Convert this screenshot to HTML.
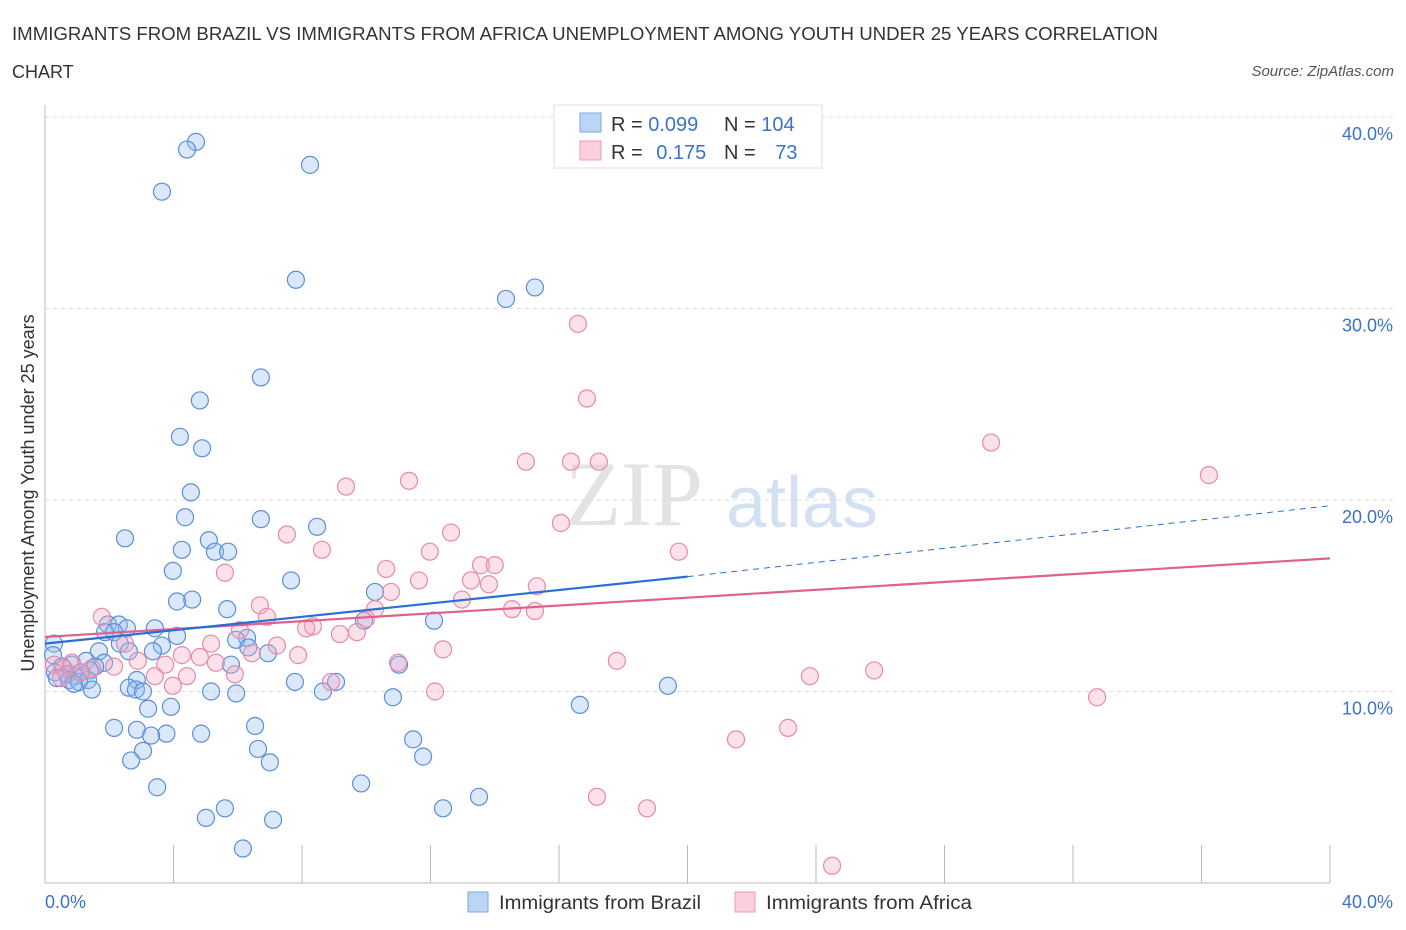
<!DOCTYPE html>
<html><head><meta charset="utf-8"><style>
body{margin:0;background:#fff;font-family:"Liberation Sans",sans-serif;}
svg{display:block}
</style></head><body>
<svg id="chart" width="1406" height="930">
<text x="12" y="40" font-size="18" fill="#333" textLength="1146" lengthAdjust="spacingAndGlyphs">IMMIGRANTS FROM BRAZIL VS IMMIGRANTS FROM AFRICA UNEMPLOYMENT AMONG YOUTH UNDER 25 YEARS CORRELATION</text>
<text x="12" y="78" font-size="18" fill="#333">CHART</text>
<text x="1394" y="76" font-size="15" font-style="italic" fill="#555" text-anchor="end">Source: ZipAtlas.com</text>
<text x="634" y="525" font-size="92" font-family="Liberation Serif" fill="#ddd" text-anchor="middle" opacity="0.8">ZIP</text>
<text x="802" y="527" font-size="72" fill="#c9daf0" text-anchor="middle" opacity="0.8">atlas</text>
<g id="grid"></g>
<g id="pts"></g>
<g id="trend"></g>
<text transform="translate(34,493) rotate(-90)" font-size="18" fill="#333" text-anchor="middle">Unemployment Among Youth under 25 years</text>
<text x="45" y="908" font-size="18" fill="#3b73c9">0.0%</text>
<text x="1393" y="908" font-size="18" fill="#3b73c9" text-anchor="end">40.0%</text>
<g>
<rect x="554" y="105" width="268" height="63" fill="#fff" stroke="#ddd"/>
<rect x="580" y="113" width="21" height="19" fill="#bcd5f5" stroke="#7aa7e6"/>
<rect x="580" y="141" width="21" height="19" fill="#fbd0dc" stroke="#f09ab5"/>
<text x="611" y="131" font-size="20" fill="#333">R = <tspan fill="#3b73c9">0.099</tspan></text>
<text x="724" y="131" font-size="20" fill="#333">N = <tspan fill="#3b73c9">104</tspan></text>
<text x="611" y="159" font-size="20" fill="#333">R = <tspan fill="#3b73c9" dx="8">0.175</tspan></text>
<text x="724" y="159" font-size="20" fill="#333">N = <tspan fill="#3b73c9" dx="14">73</tspan></text>
</g>
<g>
<rect x="468" y="892" width="20" height="20" fill="#bcd5f5" stroke="#7aa7e6"/>
<text x="499" y="909" font-size="19" fill="#333" textLength="202" lengthAdjust="spacingAndGlyphs">Immigrants from Brazil</text>
<rect x="735" y="892" width="20" height="20" fill="#fbd0dc" stroke="#f09ab5"/>
<text x="766" y="909" font-size="19" fill="#333" textLength="206" lengthAdjust="spacingAndGlyphs">Immigrants from Africa</text>
</g>
</svg>
<script>
const yTicks=[10,20,30,40];
const yTickLabels=["10.0%","20.0%","30.0%","40.0%"];
const xTicks=[0,4,8,12,16,20,24,28,32,36,40];
const brazilX=[4.70,4.42,8.25,3.64,7.81,15.25,14.35,6.72,4.82,4.20,4.89,4.54,4.36,6.72,8.47,2.49,5.10,4.26,5.29,5.70,3.98,7.66,10.27,4.58,4.11,5.67,12.11,9.93,1.96,2.30,2.55,3.42,1.87,2.15,4.11,6.29,5.95,2.33,0.28,3.64,6.33,3.36,1.68,2.61,6.94,0.25,1.28,1.84,0.84,5.79,1.56,0.53,11.02,1.40,0.31,1.12,0.68,0.93,0.37,0.75,1.06,1.34,2.86,7.78,9.06,0.90,2.61,1.46,2.83,3.05,5.17,5.95,8.65,19.39,10.83,16.65,3.21,3.92,2.15,2.86,6.54,3.78,4.86,3.30,11.46,6.63,3.05,11.77,2.68,7.00,9.84,3.49,13.51,5.60,12.39,5.01,7.10,6.16];
const brazilY=[38.7,38.3,37.5,36.1,31.5,31.1,30.5,26.4,25.2,23.3,22.7,20.4,19.1,19.0,18.6,18.0,17.9,17.4,17.3,17.3,16.3,15.8,15.2,14.8,14.7,14.3,13.7,13.7,13.5,13.5,13.3,13.3,13.1,13.1,12.9,12.8,12.7,12.5,12.5,12.4,12.3,12.1,12.1,12.1,12.0,11.9,11.6,11.5,11.4,11.4,11.3,11.3,11.4,11.1,11.0,11.0,10.9,10.8,10.7,10.6,10.5,10.6,10.6,10.5,10.5,10.4,10.2,10.1,10.1,10.0,10.0,9.9,10.0,10.3,9.7,9.3,9.1,9.2,8.1,8.0,8.2,7.8,7.8,7.7,7.5,7.0,6.9,6.6,6.4,6.3,5.2,5.0,4.5,3.9,3.9,3.4,3.3,1.8];
const africaX=[16.59,16.87,29.45,36.23,14.97,16.37,17.24,11.33,9.37,16.06,12.64,7.53,8.62,11.98,19.73,10.62,13.57,14.00,5.60,13.26,11.64,13.82,15.31,10.77,12.98,6.69,10.27,14.54,15.25,1.77,6.91,9.99,8.34,6.07,8.13,9.71,9.18,5.17,2.49,7.22,12.39,6.44,4.26,7.88,4.82,2.89,17.80,5.32,0.84,3.74,0.28,10.99,0.59,2.15,1.46,25.81,4.42,5.91,23.81,3.42,8.90,3.98,12.14,32.75,23.13,21.51,17.18,18.74,24.50,1.1,0.5];
const africaY=[29.2,25.3,23.0,21.3,22.0,22.0,22.0,21.0,20.7,18.8,18.3,18.2,17.4,17.3,17.3,16.4,16.6,16.6,16.2,15.8,15.8,15.6,15.5,15.2,14.8,14.5,14.3,14.3,14.2,13.9,13.9,13.8,13.4,13.2,13.3,13.1,13.0,12.5,12.5,12.4,12.2,12.0,11.9,11.9,11.8,11.6,11.6,11.5,11.5,11.4,11.4,11.5,11.2,11.3,11.2,11.1,10.8,10.9,10.8,10.8,10.5,10.3,10.0,9.7,8.1,7.5,4.5,3.9,0.9,11.0,10.7];
const brazilTrend=[[0,12.5],[20,16.0]];
const brazilTrendExt=[[20,16.0],[40,19.7]];
const africaTrend=[[0,12.85],[40,16.95]];
const X0=45,X1=1330,Y0=883,PY=19.15;
const sx=v=>X0+(X1-X0)*v/40, sy=v=>Y0-v*PY;
const NS="http://www.w3.org/2000/svg";
function mk(tag,attrs,parent){const e=document.createElementNS(NS,tag);for(const k in attrs)e.setAttribute(k,attrs[k]);parent.appendChild(e);return e;}
const grid=document.getElementById('grid');
yTicks.forEach((t,i)=>{
 const l=mk('line',{x1:X0,x2:1393,y1:sy(t),y2:sy(t),stroke:'#ddd','stroke-dasharray':'4,4'},grid);
 
 
 const tx=mk('text',{x:1393,y:sy(t)+23,'font-size':18,fill:'#3b73c9','text-anchor':'end'},grid);
 tx.textContent=yTickLabels[i];
 
 
});
const ax=mk('line',{x1:X0,x2:X1,y1:Y0,y2:Y0,stroke:'#bbb'},grid);


const ay=mk('line',{x1:X0,x2:X0,y1:105,y2:Y0,stroke:'#bbb'},grid);


xTicks.forEach(t=>{
 const l=mk('line',{x1:sx(t),x2:sx(t),y1:Y0-38,y2:Y0,stroke:'#bbb'},grid);
 
 
});
const pts=document.getElementById('pts');
brazilX.forEach((x,i)=>{
 const c=mk('circle',{cx:sx(x),cy:sy(brazilY[i]),r:8.5,fill:'rgba(150,190,240,0.35)',stroke:'#5b8fd9','stroke-width':1.2},pts);
 
 
});
africaX.forEach((x,i)=>{
 const c=mk('circle',{cx:sx(x),cy:sy(africaY[i]),r:8.5,fill:'rgba(244,170,196,0.35)',stroke:'#e88aa8','stroke-width':1.2},pts);
 
 
});
const tr=document.getElementById('trend');
function line(seg,stroke,w,dash,name){
 const l=mk('line',{x1:sx(seg[0][0]),y1:sy(seg[0][1]),x2:sx(seg[1][0]),y2:sy(seg[1][1]),stroke:stroke,'stroke-width':w},tr);
 if(dash)l.setAttribute('stroke-dasharray',dash);
 
 
}
line(africaTrend,'#e0608e',2.2,null,'africa-trend-line');
line(brazilTrend,'#2a6fd4',2.2,null,'brazil-trend-line');
line(brazilTrendExt,'#2a6fd4',1,'6,5','brazil-trend-extension');
</script>
</body></html>
